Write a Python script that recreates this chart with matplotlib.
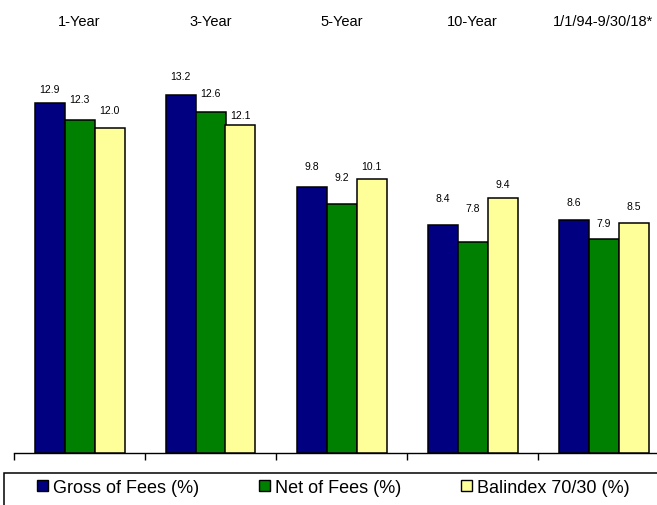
import matplotlib
matplotlib.use("Agg")
import matplotlib.pyplot as plt
from matplotlib.patches import Patch, Rectangle
from matplotlib.transforms import blended_transform_factory
import numpy as np

plt.rcParams['font.family'] = ['Liberation Sans', 'DejaVu Sans']

categories = ["1-Year", "3-Year", "5-Year", "10-Year", "1/1/94-9/30/18*"]
series_names = ["Gross of Fees (%)", "Net of Fees (%)", "Balindex 70/30 (%)"]
gross = [12.9, 13.2, 9.8, 8.4, 8.6]
net = [12.3, 12.6, 9.2, 7.8, 7.9]
balindex = [12.0, 12.1, 10.1, 9.4, 8.5]
series = [gross, net, balindex]
colors = ["#000080", "#008000", "#FFFF99"]
# label offsets above bar tops (pixels), style only
label_dy = [[14, 21, 18], [19, 19, 10], [21, 27, 13], [27, 34, 14], [18, 16, 17]]

W, H = 657, 506
fig = plt.figure(figsize=(W / 100, H / 100), dpi=100)
ax_bottom_px = 454
px_per_unit = 27.1
ymax = 15
ax_h_px = ymax * px_per_unit
ax_left_px = 14
group_px = 131
ax_w_px = group_px * len(categories)
ax = fig.add_axes([ax_left_px / W, (H - ax_bottom_px) / H, ax_w_px / W, ax_h_px / H])

x = np.arange(len(categories))
bw = 30 / group_px
for j, (vals, col) in enumerate(zip(series, colors)):
    pos = x + (j - 1) * bw
    bars = ax.bar(pos, vals, width=bw, color=col, edgecolor='black', linewidth=1.1, zorder=3)
    for i, b in enumerate(bars):
        ax.annotate(f"{vals[i]:.1f}", (b.get_x() + b.get_width() / 2, b.get_height()),
                    xytext=(0, label_dy[i][j] * 0.72), textcoords='offset points',
                    ha='center', va='center', fontsize=7.5)

ax.set_xlim(-0.5, len(categories) - 0.5)
ax.set_ylim(0, ymax)
for s in ['left', 'top', 'right']:
    ax.spines[s].set_visible(False)
ax.spines['bottom'].set_linewidth(1.0)
ax.set_yticks([])
ax.set_xticks(np.arange(len(categories) + 1) - 0.5)
ax.set_xticklabels([])
ax.tick_params(axis='x', direction='out', length=5, width=1.0, color='black')

trans = blended_transform_factory(ax.transData, fig.transFigure)
for i, c in enumerate(categories):
    ax.text(i, 1 - 22 / H, c, transform=trans, ha='center', va='center', fontsize=10.5)

# legend frame
fig.patches.append(Rectangle((4 / W, -0.1), 1.1, (H - 474) / H + 0.1, transform=fig.transFigure,
                             fill=False, edgecolor='black', linewidth=1.1))
handles = [Patch(facecolor=c, edgecolor='black', linewidth=1.0) for c in colors]
fig.legend(handles, series_names, loc='upper left', bbox_to_anchor=(37 / W, 1 - 480 / H),
           ncol=3, frameon=False, fontsize=13, borderpad=0, borderaxespad=0,
           handlelength=0.6, handleheight=0.6, handletextpad=0.3, columnspacing=3.3)

fig.savefig("out.png", dpi=100)
